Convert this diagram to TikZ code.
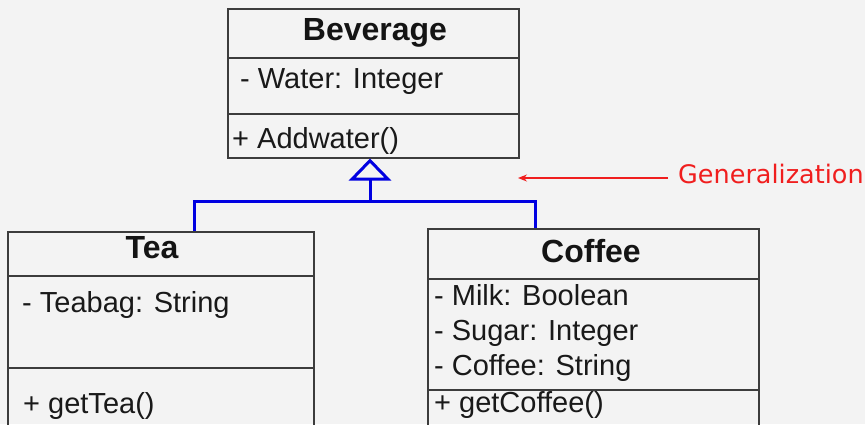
\documentclass[tikz,border=0pt]{standalone}
\usepackage{fontspec}
\setmainfont{Liberation Sans}
\newfontfamily\labelfont{DejaVu Sans}
\usetikzlibrary{arrows.meta}
\definecolor{bgcol}{RGB}{243,243,243}
\definecolor{boxline}{RGB}{60,60,60}
\definecolor{genblue}{RGB}{0,0,225}
\definecolor{genred}{RGB}{240,30,30}
\begin{document}
\begin{tikzpicture}[x=1pt,y=-1pt,
  classbox/.style={draw=boxline, line width=1.5pt, anchor=north west, inner sep=0pt},
  sepline/.style={draw=boxline, line width=1.5pt},
  title/.style={anchor=base, font=\fontsize{32}{32}\selectfont\bfseries, text=black!92},
  member/.style={anchor=base west, font=\fontsize{29}{29}\selectfont, text=black!90, inner sep=0pt},
  inherit/.style={draw=genblue, line width=3pt},
  note/.style={anchor=base west, font=\labelfont\fontsize{25.5}{25.5}\selectfont, text=genred, inner sep=0pt},
  pointer/.style={draw=genred, line width=1.2pt, -{Stealth[length=9pt, width=7pt]}}]
  % canvas
  \fill[bgcol] (0,0) rectangle (865,424);
  \useasboundingbox (0,0) rectangle (865,424);
  \clip (0,0) rectangle (865,424);

  % Beverage class
  \node[classbox, minimum width=291pt, minimum height=149pt] (bev) at (227,8) {};
  \draw[sepline] (227,58) -- (518,58);
  \draw[sepline] (227,114) -- (518,114);
  \node[title] (bevname) at (375,40) {Beverage};
  \node[member] (bevattr) at (240,88) {- Water: Integer};
  \node[member] (bevop) at (232,148) {+ Addwater()};

  % Tea class
  \node[classbox, minimum width=306pt, minimum height=220pt] (tea) at (7,231) {};
  \draw[sepline] (7,276) -- (313,276);
  \draw[sepline] (7,368) -- (313,368);
  \node[title] (teaname) at (152,258) {Tea};
  \node[member] (teaattr) at (22,312) {- Teabag: String};
  \node[member] (teaop) at (23,413) {+ getTea()};

  % Coffee class
  \node[classbox, minimum width=331pt, minimum height=220pt] (cof) at (427,228) {};
  \draw[sepline] (427,279) -- (758,279);
  \draw[sepline] (427,390) -- (758,390);
  \node[title] (cofname) at (591,262) {Coffee};
  \node[member] (cofattr1) at (434,305) {- Milk: Boolean};
  \node[member] (cofattr2) at (434,340) {- Sugar: Integer};
  \node[member] (cofattr3) at (434,375) {- Coffee: String};
  \node[member] (cofop) at (434,412) {+ getCoffee()};

  % generalization tree
  \coordinate (join) at (370,201);
  \draw[inherit] ([xshift=34pt]tea.north) |- (join) -| ([xshift=-57.5pt]cof.north);
  \draw[inherit, -{Triangle[open, length=22pt, width=42pt, line width=3pt]}] (join) -- (bev.south -| join);

  % annotation
  \node[note] (gen) at (678,183) {Generalization};
  \coordinate (tip) at (518,178);
  \draw[pointer] (gen.west |- 0,178) ++(-10,0) -- (tip);
\end{tikzpicture}
\end{document}
